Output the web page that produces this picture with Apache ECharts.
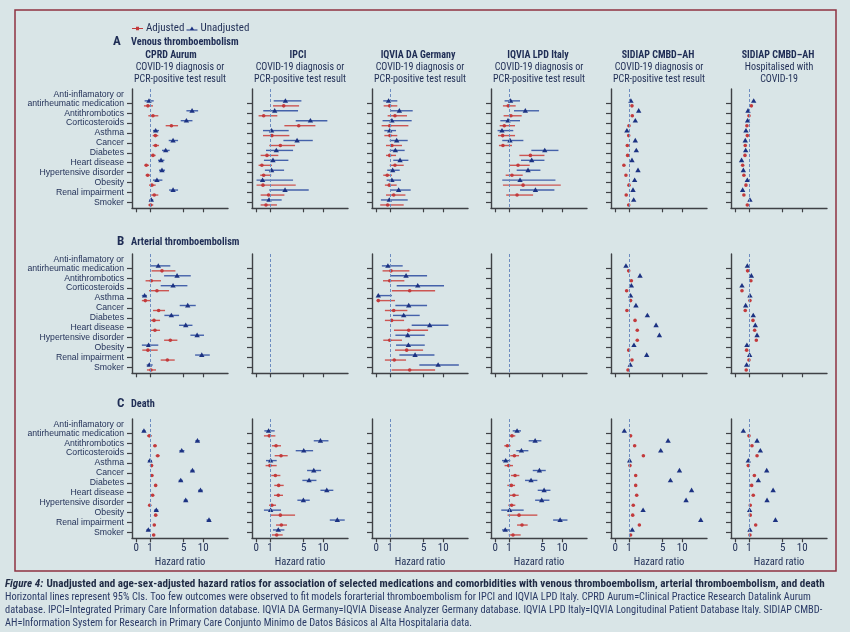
<!DOCTYPE html>
<html><head><meta charset="utf-8">
<script src="https://cdn.jsdelivr.net/npm/echarts@6/dist/echarts.min.js"></script>
<style>html,body{margin:0;padding:0;background:#d9e5e7;} #c{width:850px;height:632px;}</style>
</head><body><div id="c"></div>
<script>
// ---------- text ----------
const categories = ['antirheumatic medication','Antithrombotics','Corticosteroids','Asthma','Cancer','Diabetes','Heart disease','Hypertensive disorder','Obesity','Renal impairment','Smoker'];
const firstCategoryPrefix = 'Anti-inflamatory or';
const dbTitles = ['CPRD Aurum','IPCI','IQVIA DA Germany','IQVIA LPD Italy','SIDIAP CMBD\u2013AH','SIDIAP CMBD\u2013AH'];
const dbSubtitles = [['COVID-19 diagnosis or','PCR-positive test result'],['COVID-19 diagnosis or','PCR-positive test result'],['COVID-19 diagnosis or','PCR-positive test result'],['COVID-19 diagnosis or','PCR-positive test result'],['COVID-19 diagnosis or','PCR-positive test result'],['Hospitalised with','COVID-19']];
const outcomeLetters = ['A','B','C'];
const outcomeTitles = ['Venous thromboembolism','Arterial thromboembolism','Death'];
const xTickLabels = [0,1,5,10];
const seriesNames = ['Adjusted','Unadjusted'];

// ---------- hazard ratios [estimate, lower 95% CI, upper 95% CI] (plain number = no CI drawn) ----------
const vteCprdAdj = [[0.85,0.56,1.19],[1.19,0.88,1.59],[2.99,2.30,3.98],[1.36,1.17,1.59],[1.38,1.17,1.65],[1.19,1.02,1.38],[0.73,0.59,0.93],[0.83,0.68,1.0],[1.12,0.93,1.38],[1.28,1.08,1.59],[1.04,0.88,1.21]];
const vteCprdUnadj = [[0.93,0.61,1.24],[6.83,5.54,8.43],[5.54,4.44,6.92],[1.38,1.19,1.65],[3.22,2.65,3.98],[2.30,1.92,2.77],[1.83,1.57,2.16],[1.92,1.65,2.23],[1.48,1.19,1.96],[3.22,2.69,3.98],[1.08,0.95,1.21]];
const vteIpciAdj = [[2.09,1.19,4.15],[0.54,0.17,1.51],[4.09,2.16,7.68],[1.12,0.49,2.73],[1.77,0.95,3.51],[0.78,0.32,1.59],[0.41,0.17,1.12],[0.54,0.29,1.08],[0.49,0.02,3.61],[0.90,0.32,2.16],[0.71,0.32,1.48]];
const vteIpciUnadj = [[2.27,1.24,4.56],[1.31,0.51,3.98],[6.43,3.61,11.4],[1.10,0.49,2.65],[3.82,2.06,7.0],[1.43,0.71,3.22],[1.19,0.56,2.61],[1.10,0.63,2.13],[0.46,0.02,3.22],[2.23,0.95,6.04],[0.93,0.37,1.89]];
const vteIqviaDaAdj = [[0.98,0.54,1.51],[1.33,0.83,2.45],[0.98,0.39,2.61],[1.0,0.59,1.51],[1.12,0.71,1.92],[0.98,0.71,1.41],[1.33,0.98,2.09],[0.80,0.51,1.12],[0.95,0.63,1.46],[1.24,0.71,2.27],[0.83,0.29,2.09]];
const vteIqviaDaUnadj = [[0.90,0.51,1.51],[1.68,1.02,3.17],[1.12,0.46,3.03],[0.98,0.59,1.41],[1.46,0.98,2.53],[1.36,0.98,2.19],[1.74,1.21,2.61],[1.17,0.80,1.71],[1.12,0.76,1.83],[1.62,1.06,2.90],[0.95,0.34,2.53]];
const vteIqviaLpdAdj = [[0.95,0.56,1.46],[1.12,0.61,1.99],[0.66,0.32,1.41],[0.54,0.20,1.41],[0.56,0.27,1.19],[2.99,1.77,5.34],[1.65,1.04,2.90],[1.19,0.76,2.09],[2.13,0.56,9.53],[1.57,0.80,3.37],null];
const vteIqviaLpdUnadj = [[1.10,0.68,1.83],[2.37,1.33,4.32],[0.93,0.37,1.83],[0.49,0.17,1.28],[1.06,0.51,2.16],[5.40,3.12,8.82],[3.17,1.92,5.34],[2.69,1.54,4.56],[1.83,0.51,7.96],[3.72,1.83,7.68],null];
const vteSidiapAdj = [1.19,1.21,1.0,0.98,0.88,0.90,0.63,0.78,1.0,0.80,0.98];
const vteSidiapUnadj = [1.12,1.71,1.43,0.85,1.43,1.51,1.19,1.65,1.38,1.26,1.31];
const vteSidiapHospAdj = [1.15,1.0,0.85,0.88,0.73,0.71,0.54,0.63,0.78,0.63,0.88];
const vteSidiapHospUnadj = [1.31,0.93,0.90,0.78,0.73,0.76,0.46,0.59,0.88,0.54,1.06];

const ateCprdAdj = [[1.92,1.10,3.56],[1.08,0.68,1.83],[1.48,0.93,2.69],[0.66,0.41,1.02],[1.62,1.19,2.23],[1.26,1.0,1.74],[1.33,1.06,1.74],[2.85,2.13,3.87],[0.85,0.44,1.54],[2.49,1.80,3.46],[1.06,0.78,1.41]];
const ateCprdUnadj = [[1.59,1.0,2.85],[3.82,2.13,6.51],[3.22,1.80,5.75],[0.61,0.41,0.78],[5.82,4.26,7.77],[2.99,2.16,4.15],[5.40,4.15,6.92],[8.15,6.43,10.25],[0.90,0.41,1.59],[9.53,7.6,12.3],[0.95,0.76,1.17]];
const ateIqviaDaAdj = [[1.06,0.46,2.73],[0.98,0.49,2.16],[2.77,1.12,7.6],[0.15,0.02,1.33],[1.24,0.63,2.49],[1.10,0.63,2.13],[2.65,1.26,5.9],[0.98,0.51,1.92],[2.41,1.33,4.87],[1.28,0.63,2.34],[2.77,1.10,7.6]];
const ateIqviaDaUnadj = [[0.85,0.41,1.99],[2.34,1.02,5.68],[3.93,1.46,10.25],[0.15,0.05,1.12],[2.65,1.36,5.68],[2.09,1.19,4.26],[6.27,3.03,11.8],[2.53,1.36,5.2],[2.61,1.41,5.2],[3.51,1.68,7.43],[8.43,4.2,16.1]];
const ateSidiapAdj = [0.98,1.15,0.83,1.10,0.85,1.41,1.59,1.59,0.98,1.19,0.93];
const ateSidiapUnadj = [0.78,1.83,1.15,1.10,1.48,2.61,3.82,4.38,1.33,2.53,1.08];
const ateSidiapHospAdj = [0.90,1.12,0.49,1.06,0.73,1.26,1.38,1.51,0.83,1.0,0.80];
const ateSidiapHospUnadj = [0.88,1.15,0.49,1.06,0.76,1.28,1.43,1.57,0.85,1.04,0.83];

const deathCprdAdj = [[0.95,0.78,1.12],[1.33,1.21,1.46],[1.54,1.38,1.71],[1.10,1.02,1.19],[1.12,1.04,1.21],[1.38,1.28,1.48],[1.17,1.08,1.26],[0.98,0.93,1.04],[1.38,1.26,1.51],[1.28,1.19,1.38],[1.24,1.15,1.33]];
const deathCprdUnadj = [[0.56,0.44,0.68],[8.24,7.68,8.92],[4.62,4.2,5.13],[1.0,0.85,1.12],[6.92,6.43,7.43],[4.44,4.08,4.8],[9.12,8.43,9.84],[5.40,5.0,5.82],[1.43,1.26,1.59],[12.0,11.1,12.7],[0.88,0.73,1.02]];
const deathIpciAdj = [[0.95,0.56,1.36],[1.41,1.12,1.83],[1.83,1.31,2.53],[1.0,0.68,1.46],[1.36,1.08,1.77],[1.62,1.28,2.09],[1.59,1.26,2.02],[1.12,0.93,1.41],[1.77,1.0,3.51],[1.86,1.41,2.45],[1.46,1.12,1.99]];
const deathIpciUnadj = [[0.90,0.59,1.31],[9.12,7.25,11.8],[5.0,3.61,7.08],[1.04,0.71,1.46],[7.25,5.68,9.32],[6.12,4.74,7.96],[11.2,9.12,13.7],[4.93,3.87,6.27],[1.04,0.56,1.83],[15.4,12.3,19.0],[1.59,1.19,2.16]];
const deathIqviaLpdAdj = [[1.19,1.0,1.43],[0.88,0.66,1.10],[1.36,1.08,1.74],[0.98,0.68,1.26],[1.41,1.12,1.77],[1.15,0.88,1.41],[1.33,1.04,1.71],[1.17,0.95,1.43],[1.74,0.90,4.03],[2.02,1.57,2.65],[1.26,0.98,1.89]];
const deathIqviaLpdUnadj = [[1.57,1.24,1.92],[3.67,2.77,4.74],[1.96,1.51,2.73],[0.76,0.49,1.08],[4.38,3.32,5.61],[3.08,2.34,4.03],[5.27,4.09,6.67],[4.80,3.67,6.43],[1.04,0.44,2.19],[9.32,7.34,11.8],[0.73,0.49,1.04]];
const deathSidiapAdj = [1.10,1.38,2.16,1.06,1.46,1.46,1.54,1.28,1.24,1.77,1.10];
const deathSidiapUnadj = [0.66,6.12,4.62,1.04,9.12,6.67,13.4,11.3,2.13,17.5,1.21];
const deathSidiapHospAdj = [1.0,1.19,1.57,0.95,1.36,1.17,1.28,1.08,1.08,1.46,1.06];
const deathSidiapHospUnadj = [0.59,1.57,1.86,0.95,2.53,1.68,3.37,2.57,1.04,3.72,1.06];

// panels: [row, column, adjusted, unadjusted]  (null = no model fitted)
const panels = [
  [0,0,vteCprdAdj,vteCprdUnadj],[0,1,vteIpciAdj,vteIpciUnadj],[0,2,vteIqviaDaAdj,vteIqviaDaUnadj],[0,3,vteIqviaLpdAdj,vteIqviaLpdUnadj],[0,4,vteSidiapAdj,vteSidiapUnadj],[0,5,vteSidiapHospAdj,vteSidiapHospUnadj],
  [1,0,ateCprdAdj,ateCprdUnadj],[1,1,null,null],[1,2,ateIqviaDaAdj,ateIqviaDaUnadj],[1,3,null,null],[1,4,ateSidiapAdj,ateSidiapUnadj],[1,5,ateSidiapHospAdj,ateSidiapHospUnadj],
  [2,0,deathCprdAdj,deathCprdUnadj],[2,1,deathIpciAdj,deathIpciUnadj],[2,2,null,null],[2,3,deathIqviaLpdAdj,deathIqviaLpdUnadj],[2,4,deathSidiapAdj,deathSidiapUnadj],[2,5,deathSidiapHospAdj,deathSidiapHospUnadj]
];

const captionTitle = 'Unadjusted and age-sex-adjusted hazard ratios for association of selected medications and comorbidities with venous thromboembolism, arterial thromboembolism, and death';
const captionLines = [
  'Horizontal lines represent 95% CIs. Too few outcomes were observed to fit models forarterial thromboembolism for IPCI and IQVIA LPD Italy. CPRD Aurum=Clinical Practice Research Datalink Aurum',
  'database. IPCI=Integrated Primary Care Information database. IQVIA DA Germany=IQVIA Disease Analyzer Germany database. IQVIA LPD Italy=IQVIA Longitudinal Patient Database Italy. SIDIAP CMBD-',
  'AH=Information System for Research in Primary Care Conjunto Minimo de Datos B\u00e1sicos al Alta Hospitalaria data.'
];

// ---------- styling / layout ----------
const FONT = '"Roboto Condensed","Liberation Sans Narrow",sans-serif';
const LFONT = '"Liberation Sans",Arial,sans-serif';
const TXT = '#1f2d55';
const AXC = '#3f4145';
const RED = '#c23a3c', RED_L = '#cc5552';
const BLUE = '#1c3282', BLUE_L = '#4461aa';
const gridLefts = [132, 252, 372, 491, 611, 731];
const gridTops = [89, 254, 419];
const GW = 96, GH = 119.3;
const LABEL_SIZE = 8.7;

// hazard-ratio axis scale (linear below 1, compressed power scale above 1)
const T = v => v <= 1 ? v : 1 + 4.74 * (Math.pow(v, 0.26) - 1);
const xTickPos = xTickLabels.map(T);
const catIdx = categories.map((_, i) => i);

function toItems(arr) {
  const out = [];
  arr.forEach((d, i) => {
    if (d == null) return;
    if (typeof d === 'number') out.push([T(d), NaN, NaN, i]);
    else out.push([T(d[0]), T(d[1]), T(d[2]), i]);
  });
  return out;
}

function makeRender(kind) {
  return function (params, api) {
    const y = api.value(3);
    const c = api.coord([api.value(0), y]);
    const cy = c[1] + (kind === 'u' ? -2.4 : 2.6);
    const lo = api.value(1), hi = api.value(2);
    const ch = [];
    if (isFinite(lo) && isFinite(hi)) {
      const a = api.coord([lo, y]), b = api.coord([hi, y]);
      ch.push({ type: 'line', shape: { x1: a[0], y1: cy, x2: b[0], y2: cy },
        style: { stroke: kind === 'u' ? BLUE_L : RED_L, lineWidth: 1.4 } });
    }
    if (kind === 'u') {
      ch.push({ type: 'polygon', shape: { points: [[c[0], cy - 2.7], [c[0] + 2.7, cy + 1.9], [c[0] - 2.7, cy + 1.9]] },
        style: { fill: BLUE } });
    } else {
      ch.push({ type: 'circle', shape: { cx: c[0], cy: cy, r: 1.8 }, style: { fill: RED } });
    }
    return { type: 'group', children: ch };
  };
}

const grids = [], xAxes = [], yAxes = [], series = [];
panels.forEach((p, k) => {
  const [r, c, adj, unadj] = p;
  grids.push({ left: gridLefts[c], top: gridTops[r], width: GW, height: GH });
  xAxes.push({
    type: 'value', gridIndex: k, min: -0.31, max: 6.69, position: 'bottom',
    axisLine: { show: true, onZero: false, lineStyle: { color: AXC, width: 1.4 } },
    axisTick: { show: true, customValues: xTickPos, length: 4, lineStyle: { color: AXC, width: 1.2 } },
    axisLabel: { show: r === 2, customValues: xTickPos, margin: 4, fontSize: 11, color: TXT, fontFamily: FONT,
      formatter: v => { let best = 0; xTickPos.forEach((t, i) => { if (Math.abs(t - v) < Math.abs(xTickPos[best] - v)) best = i; }); return String(xTickLabels[best]); } },
    splitLine: { show: false },
    name: r === 2 ? 'Hazard ratio' : '', nameLocation: 'middle', nameGap: 19,
    nameTextStyle: { fontSize: 10.5, color: TXT, fontFamily: FONT }
  });
  yAxes.push({
    type: 'value', gridIndex: k, inverse: true, min: -1.44, max: 10.6, position: 'left',
    axisLine: { show: true, onZero: false, lineStyle: { color: AXC, width: 1.4 } },
    axisTick: { show: true, customValues: catIdx, length: 5, lineStyle: { color: AXC, width: 1.2 } },
    axisLabel: { show: c === 0, customValues: catIdx, margin: 8, fontSize: LABEL_SIZE, lineHeight: 9, color: TXT, fontFamily: LFONT,
      showMinLabel: true, showMaxLabel: true, hideOverlap: false,
      formatter: v => categories[Math.round(v)] || '' },
    splitLine: { show: false }
  });
  series.push({
    type: 'custom', name: 'ref', xAxisIndex: k, yAxisIndex: k, data: [], renderItem: () => null, silent: true,
    markLine: { silent: true, symbol: 'none', label: { show: false }, animation: false,
      lineStyle: { color: '#6d8cc0', type: [3, 2], width: 1 }, data: [{ xAxis: T(1) }] }
  });
  if (adj) series.push({ type: 'custom', name: seriesNames[0], xAxisIndex: k, yAxisIndex: k, itemStyle: { color: RED },
    encode: { x: [0, 1, 2], y: 3 }, data: toItems(adj), renderItem: makeRender('a'), clip: false, z: 3 });
  if (unadj) series.push({ type: 'custom', name: seriesNames[1], xAxisIndex: k, yAxisIndex: k, itemStyle: { color: BLUE },
    encode: { x: [0, 1, 2], y: 3 }, data: toItems(unadj), renderItem: makeRender('u'), clip: false, z: 4 });
});

// text graphics
const g = [];
g.push({ type: 'rect', shape: { x: 15, y: 10, width: 821, height: 561 }, style: { fill: 'none', stroke: '#8e3242', lineWidth: 1.5 }, z: -1 });
const titleY = [42, 241.5, 404];
const letterX = [113, 117, 117];
outcomeTitles.forEach((t, r) => {
  g.push({ type: 'text', style: { x: letterX[r], y: titleY[r], text: outcomeLetters[r], fill: TXT, font: 'bold 13px ' + FONT, verticalAlign: 'middle' } });
  g.push({ type: 'text', style: { x: 131, y: titleY[r] + 0.5, text: t, fill: TXT, font: 'bold 10.3px ' + FONT, verticalAlign: 'middle' } });
});
const titleCx = [171, 298, 418, 538, 658, 778];
dbTitles.forEach((t, c) => {
  const cx = gridLefts[c] + GW / 2;
  g.push({ type: 'text', style: { x: titleCx[c], y: 55, text: t, fill: TXT, font: 'bold 10px ' + FONT, align: 'center', verticalAlign: 'middle' } });
  dbSubtitles[c].forEach((s, j) => {
    g.push({ type: 'text', style: { x: cx, y: 67 + 12 * j, text: s, fill: TXT, font: '10px ' + FONT, align: 'center', verticalAlign: 'middle' } });
  });
});
g.push({ type: 'text', style: { x: 5, y: 584, fill: '#1f2a44', verticalAlign: 'middle',
  text: '{i|Figure 4:} {b|' + captionTitle + '}',
  rich: { i: { font: 'italic bold 11.1px ' + FONT, fill: '#1f2a44' }, b: { font: 'bold 11.1px ' + FONT, fill: '#1f2a44' } } } });
captionLines.forEach((s, j) => {
  g.push({ type: 'text', style: { x: 5, y: 597.5 + 12.8 * j, text: s, fill: '#2a3a66', font: '10.4px ' + FONT, verticalAlign: 'middle' } });
});

const option = {
  backgroundColor: '#d9e5e7',
  animation: false,
  legend: {
    left: 127, top: 18, itemWidth: 11, itemHeight: 8, itemGap: 2,
    textStyle: { color: TXT, fontSize: 11, fontFamily: FONT, padding: [0, 0, 0, -2] },
    data: [
      { name: seriesNames[0], icon: 'path://M0,3.5H11V4.5H0Z M4,2.2H7V5.8H4Z', itemStyle: { color: RED } },
      { name: seriesNames[1], icon: 'path://M0,5.3H11V6.2H0Z M5.5,2.2L8,6.2H3Z', itemStyle: { color: BLUE } }
    ]
  },
  grid: grids, xAxis: xAxes, yAxis: yAxes, series: series, graphic: g
};
const chart = echarts.init(document.getElementById('c'), null, { renderer: 'canvas' });
chart.setOption(option);

// first line of the two-line first category label, placed above its axis label
const extra = [];
panels.forEach((p, k) => {
  if (p[1] !== 0) return;
  const y0 = chart.convertToPixel({ yAxisIndex: k }, 0);
  extra.push({ type: 'text', style: { x: gridLefts[0] - 8, y: y0 - 8.6, text: firstCategoryPrefix, fill: TXT,
    font: LABEL_SIZE + 'px ' + LFONT, align: 'right', verticalAlign: 'middle' } });
});
chart.setOption({ graphic: g.concat(extra) });
</script></body></html>
